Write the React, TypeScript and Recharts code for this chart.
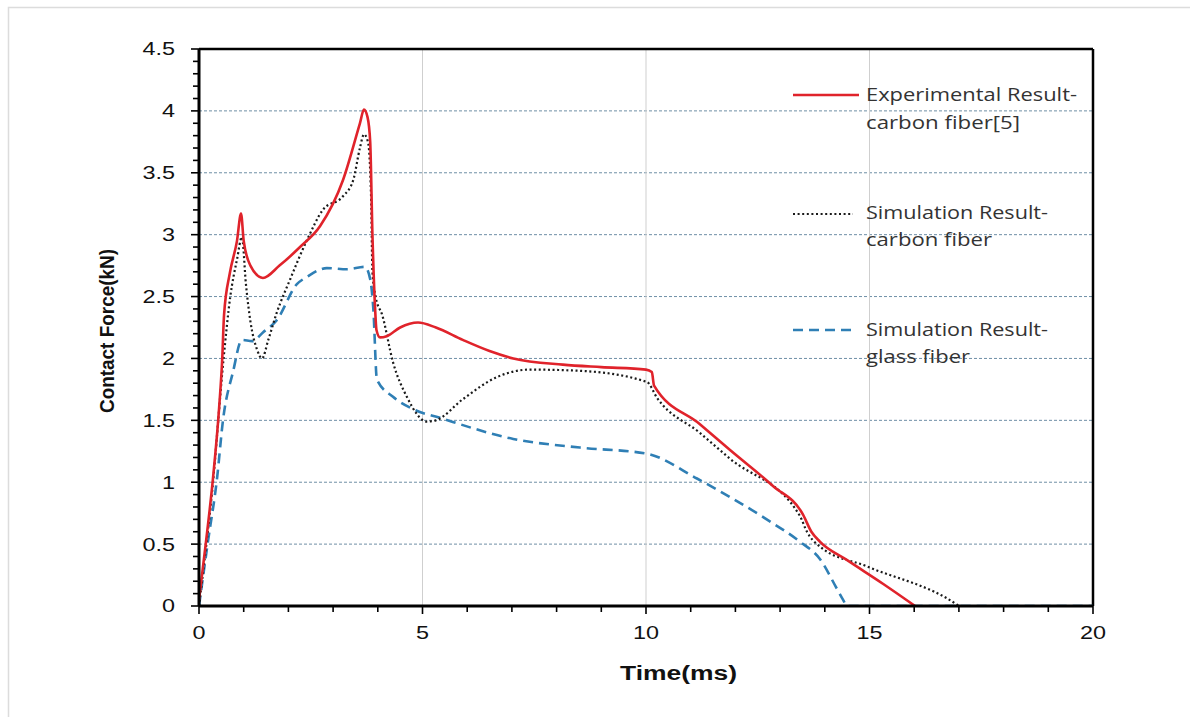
import React from "react";
import { LineChart, Line, XAxis, YAxis, ReferenceLine } from "recharts";

// Experimental result - carbon fiber [5]
const expTime = [0, 0.02, 0.15, 0.31, 0.45, 0.52, 0.56, 0.69, 0.85, 0.94, 1.0, 1.15, 1.43, 1.8, 2.26, 2.71, 3.22, 3.6, 3.69, 3.77, 3.83, 3.88, 3.94, 3.97, 4.05, 4.2, 4.5, 4.9, 5.3, 5.9, 6.5, 7.03, 8.14, 9.0, 10.0, 10.13, 10.18, 11.2, 11.88, 12.84, 13.51, 13.7, 13.89, 14.5, 15.3, 16.02];
const expForce = [0.05, 0.11, 0.5, 1.02, 1.6, 2.0, 2.35, 2.69, 2.95, 3.17, 2.95, 2.75, 2.65, 2.75, 2.9, 3.07, 3.44, 3.9, 4.01, 3.95, 3.75, 3.0, 2.4, 2.23, 2.17, 2.18, 2.25, 2.29, 2.25, 2.15, 2.06, 2.0, 1.95, 1.93, 1.91, 1.89, 1.78, 1.47, 1.26, 0.97, 0.74, 0.6, 0.52, 0.37, 0.18, 0];

// Simulation result - carbon fiber
const simCTime = [0, 0.1, 0.3, 0.55, 0.7, 0.85, 0.96, 1.05, 1.15, 1.3, 1.41, 1.55, 1.74, 2.04, 2.42, 2.77, 3.22, 3.45, 3.6, 3.69, 3.78, 3.85, 3.88, 3.95, 4.1, 4.34, 4.65, 5.1, 5.3, 5.9, 6.67, 7.4, 8.52, 10.02, 10.25, 11.2, 11.88, 13.44, 13.6, 13.89, 14.94, 16.96, 17.0, 20];
const simCForce = [0, 0.3, 0.95, 2.0, 2.5, 2.8, 2.98, 2.6, 2.3, 2.07, 2.0, 2.15, 2.37, 2.64, 2.96, 3.2, 3.31, 3.44, 3.7, 3.81, 3.75, 3.3, 2.7, 2.5, 2.35, 1.97, 1.69, 1.49, 1.5, 1.67, 1.85, 1.91, 1.9, 1.81, 1.68, 1.4, 1.19, 0.73, 0.6, 0.48, 0.32, 0.01, 0, 0];

// Simulation result - glass fiber
const simGTime = [0, 0.2, 0.4, 0.54, 0.76, 0.96, 1.19, 1.43, 1.74, 2.19, 2.42, 2.86, 3.31, 3.71, 3.83, 3.9, 3.98, 4.34, 4.79, 5.39, 7.03, 8.52, 10.02, 11.14, 11.88, 12.7, 13.44, 13.89, 14.27, 14.41, 14.5, 20];
const simGForce = [0, 0.52, 1.02, 1.51, 1.89, 2.15, 2.14, 2.21, 2.31, 2.6, 2.66, 2.73, 2.72, 2.74, 2.64, 2.4, 1.83, 1.69, 1.59, 1.52, 1.35, 1.28, 1.23, 1.03, 0.88, 0.7, 0.52, 0.38, 0.14, 0.05, 0, 0];

const xTicks = [0, 1, 2, 3, 4, 5, 6, 7, 8, 9, 10, 11, 12, 13, 14, 15, 16, 17, 18, 19, 20];
const yTicks = [0, 0.1, 0.2, 0.3, 0.4, 0.5, 0.6, 0.7, 0.8, 0.9, 1, 1.1, 1.2, 1.3, 1.4, 1.5, 1.6, 1.7, 1.8, 1.9, 2, 2.1, 2.2, 2.3, 2.4, 2.5, 2.6, 2.7, 2.8, 2.9, 3, 3.1, 3.2, 3.3, 3.4, 3.5, 3.6, 3.7, 3.8, 3.9, 4, 4.1, 4.2, 4.3, 4.4, 4.5];
const yGrid = [0.5, 1, 1.5, 2, 2.5, 3, 3.5, 4];
const xGrid = [5, 10, 15];

const zip = (t: number[], f: number[]) => t.map((x, i) => ({ t: x, f: f[i] }));
const expData = zip(expTime, expForce);
const simCData = zip(simCTime, simCForce);
const simGData = zip(simGTime, simGForce);

const isMajorY = (v: number) => Math.abs(v * 2 - Math.round(v * 2)) < 1e-6;
const tickFont = "'Liberation Sans', Arial, sans-serif";

const YTick = (props: any) => {
  const { x, y, payload } = props;
  const major = isMajorY(payload.value);
  return (
    <g>
      <line x1={x - (major ? 8 : 6)} x2={x} y1={y} y2={y} stroke="#000" strokeWidth={1.6} />
      {major && (
        <text transform={`translate(${x - 24},${y}) scale(1.3,1)`} textAnchor="end" dy="0.36em"
          fontSize={18} fontFamily={tickFont} fill="#111">
          {String(payload.value)}
        </text>
      )}
    </g>
  );
};

const XTick = (props: any) => {
  const { x, y, payload } = props;
  const major = payload.value % 5 === 0;
  return (
    <g>
      <line x1={x} x2={x} y1={y} y2={y + (major ? 8 : 6)} stroke="#000" strokeWidth={1.6} />
      {major && (
        <text transform={`translate(${x},${y + 27}) scale(1.3,1)`} textAnchor="middle" dy="0.36em"
          fontSize={18} fontFamily={tickFont} fill="#111">
          {String(payload.value)}
        </text>
      )}
    </g>
  );
};

const legendFont = "'Open Sans', 'Liberation Sans', sans-serif";

export default function App() {
  return (
    <div style={{ position: "absolute", left: 0, top: 0, width: 1190, height: 717, background: "#fff" }}>
      <LineChart width={1190} height={717} margin={{ top: 49, right: 97, left: 0, bottom: 0 }}>
        <XAxis type="number" dataKey="t" domain={[0, 20]} ticks={xTicks} interval={0} allowDataOverflow
          tick={<XTick />} tickLine={false} tickSize={0} tickMargin={0} height={111}
          axisLine={{ stroke: "#000", strokeWidth: 3 }} />
        <YAxis type="number" dataKey="f" domain={[0, 4.5]} ticks={yTicks} interval={0} allowDataOverflow
          tick={<YTick />} tickLine={false} tickSize={0} tickMargin={0} width={199}
          axisLine={{ stroke: "#000", strokeWidth: 3 }} />
        {yGrid.map((v) => (
          <ReferenceLine key={"h" + v} y={v} stroke="#6f8fa6" strokeWidth={1} strokeDasharray="3 2" />
        ))}
        {xGrid.map((v) => (
          <ReferenceLine key={"v" + v} x={v} stroke="#cfcfcf" strokeWidth={1} />
        ))}
        <ReferenceLine y={4.5} stroke="#000" strokeWidth={2.5} />
        <ReferenceLine x={20} stroke="#000" strokeWidth={2.5} />
        <Line data={simGData} dataKey="f" type="monotone" stroke="#2f7fb5" strokeWidth={2.6}
          strokeDasharray="10 6" dot={false} isAnimationActive={false} />
        <Line data={simCData} dataKey="f" type="monotone" stroke="#1a1a1a" strokeWidth={2.2}
          strokeDasharray="2 2.6" dot={false} isAnimationActive={false} />
        <Line data={expData} dataKey="f" type="monotone" stroke="#e0232b" strokeWidth={2.6}
          dot={false} isAnimationActive={false} />
      </LineChart>
      <svg width={1190} height={717} style={{ position: "absolute", left: 0, top: 0, pointerEvents: "none" }}>
        <path d="M8.5 717 L8.5 7.5 L1190 7.5" fill="none" stroke="#dcdcdc" strokeWidth={1.5} />
        <text transform="translate(114,331) rotate(-90)" textAnchor="middle" textLength={164} lengthAdjust="spacingAndGlyphs"
          fontSize={20} fontWeight="bold" fontFamily={tickFont} fill="#111">Contact Force(kN)</text>
        <text x={620} y={680} textLength={117} lengthAdjust="spacingAndGlyphs"
          fontSize={20} fontWeight="bold" fontFamily={tickFont} fill="#111">Time(ms)</text>

        <line x1={793} x2={859} y1={95} y2={95} stroke="#e0232b" strokeWidth={2.6} />
        <text x={866} y={101} textLength={211} lengthAdjust="spacingAndGlyphs" fontSize={18} fontFamily={legendFont} fill="#333">Experimental Result-</text>
        <text x={866} y={129} textLength={154} lengthAdjust="spacingAndGlyphs" fontSize={18} fontFamily={legendFont} fill="#333">carbon fiber[5]</text>

        <line x1={793} x2={853} y1={214} y2={214} stroke="#1a1a1a" strokeWidth={2.2} strokeDasharray="2 2.6" />
        <text x={866} y={219} textLength={182} lengthAdjust="spacingAndGlyphs" fontSize={18} fontFamily={legendFont} fill="#333">Simulation Result-</text>
        <text x={866} y={246} textLength={126} lengthAdjust="spacingAndGlyphs" fontSize={18} fontFamily={legendFont} fill="#333">carbon fiber</text>

        <line x1={793} x2={853} y1={330} y2={330} stroke="#2f7fb5" strokeWidth={2.6} strokeDasharray="10 6" />
        <text x={866} y={336} textLength={182} lengthAdjust="spacingAndGlyphs" fontSize={18} fontFamily={legendFont} fill="#333">Simulation Result-</text>
        <text x={866} y={363} textLength={104} lengthAdjust="spacingAndGlyphs" fontSize={18} fontFamily={legendFont} fill="#333">glass fiber</text>
      </svg>
    </div>
  );
}
